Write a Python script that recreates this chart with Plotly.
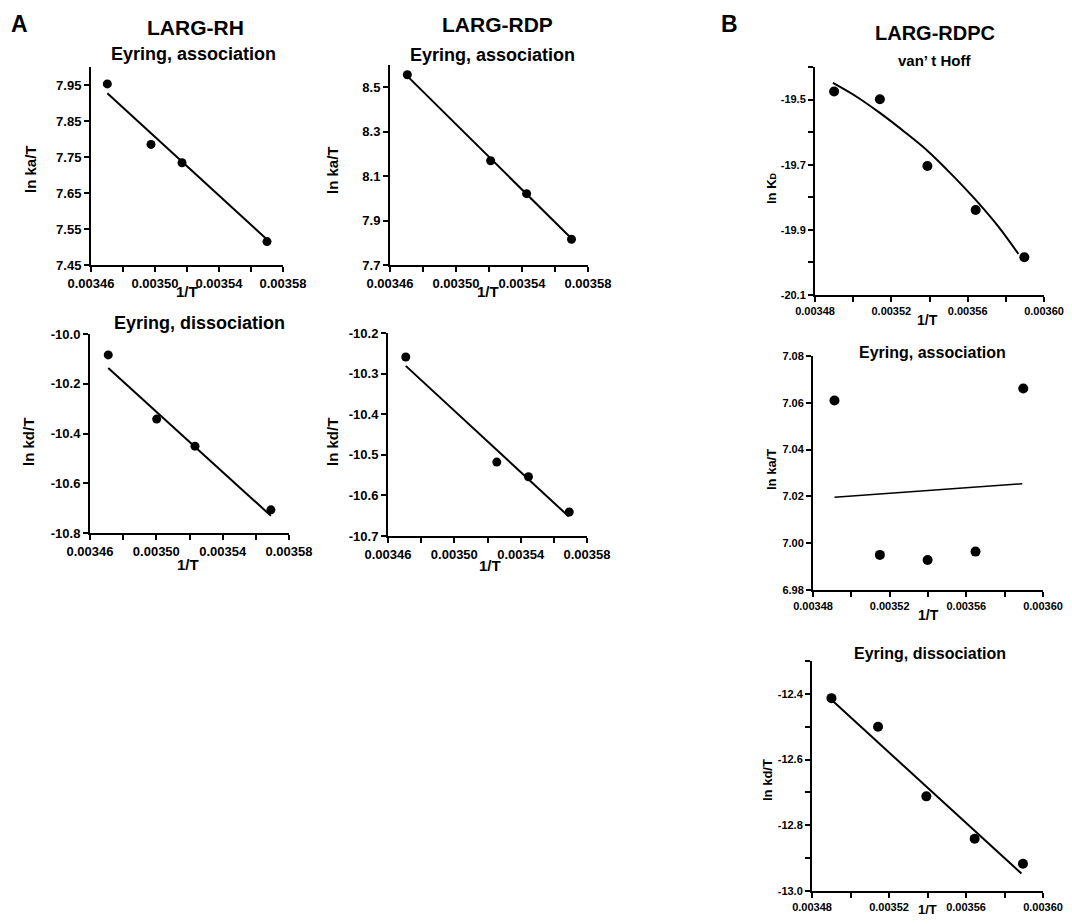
import plotly.graph_objects as go

# The page body has an 8px margin; the figure is sized so that it fits the
# 1072x924 window, and page-pixel positions are shifted by OFF.
PAGE_W, PAGE_H = 1072, 924
OFF = 8
W, H = PAGE_W - OFF, PAGE_H - 2 * OFF

# ---------------- data ----------------
# A: LARG-RH
rh_ass_x = [0.0034702, 0.0034975, 0.0035169, 0.0035700]
rh_ass_y = [7.953, 7.785, 7.734, 7.515]
rh_ass_fit_x = [0.0034702, 0.0035700]
rh_ass_fit_y = [7.927, 7.521]

rh_dis_x = [0.0034710, 0.0035002, 0.0035233, 0.0035691]
rh_dis_y = [-10.084, -10.342, -10.451, -10.707]
rh_dis_fit_x = [0.0034710, 0.0035691]
rh_dis_fit_y = [-10.137, -10.731]

# A: LARG-RDP
rdp_ass_x = [0.0034705, 0.0035210, 0.0035428, 0.0035700]
rdp_ass_y = [8.556, 8.169, 8.021, 7.816]
rdp_ass_fit_x = [0.0034705, 0.0035700]
rdp_ass_fit_y = [8.550, 7.819]

rdp_dis_x = [0.0034707, 0.0035256, 0.0035447, 0.0035693]
rdp_dis_y = [-10.259, -10.518, -10.554, -10.641]
rdp_dis_fit_x = [0.0034707, 0.0035690]
rdp_dis_fit_y = [-10.281, -10.652]

# B: LARG-RDPC
rdpc_vh_x = [0.0034900, 0.0035140, 0.0035389, 0.0035642, 0.0035897]
rdpc_vh_y = [-19.475, -19.499, -19.704, -19.839, -19.984]
rdpc_vh_fit_x = [0.0034894, 0.0035020, 0.0035140, 0.0035273, 0.0035389, 0.0035513,
                 0.0035642, 0.0035754, 0.0035866]
rdpc_vh_fit_y = [-19.449, -19.492, -19.541, -19.601, -19.657, -19.728,
                 -19.808, -19.885, -19.974]

rdpc_ass_x = [0.0034912, 0.0035149, 0.0035398, 0.0035648, 0.0035897]
rdpc_ass_y = [7.061, 6.995, 6.9928, 6.9964, 7.0661]
rdpc_ass_fit_x = [0.0034912, 0.0035892]
rdpc_ass_fit_y = [7.0196, 7.0254]

rdpc_dis_x = [0.0034901, 0.0035143, 0.0035394, 0.0035645, 0.0035896]
rdpc_dis_y = [-12.413, -12.500, -12.712, -12.841, -12.917]
rdpc_dis_fit_x = [0.0034901, 0.0035888]
rdpc_dis_fit_y = [-12.418, -12.947]

# tick values / labels
xA_ticks = [0.00346, 0.00348, 0.00350, 0.00352, 0.00354, 0.00356, 0.00358]
xA_text = ["0.00346", "", "0.00350", "", "0.00354", "", "0.00358"]
xB_ticks = [0.00348, 0.00350, 0.00352, 0.00354, 0.00356, 0.00358, 0.00360]
xB_text = ["0.00348", "", "0.00352", "", "0.00356", "", "0.00360"]

yA1_ticks = [7.45, 7.55, 7.65, 7.75, 7.85, 7.95]
yA1_text = ["7.45", "7.55", "7.65", "7.75", "7.85", "7.95"]
yA2_ticks = [7.7, 7.9, 8.1, 8.3, 8.5]
yA2_text = ["7.7", "7.9", "8.1", "8.3", "8.5"]
yA3_ticks = [-10.8, -10.6, -10.4, -10.2, -10.0]
yA3_text = ["-10.8", "-10.6", "-10.4", "-10.2", "-10.0"]
yA4_ticks = [-10.7, -10.6, -10.5, -10.4, -10.3, -10.2]
yA4_text = ["-10.7", "-10.6", "-10.5", "-10.4", "-10.3", "-10.2"]
yB1_ticks = [-20.1, -20.0, -19.9, -19.8, -19.7, -19.6, -19.5, -19.4]
yB1_text = ["-20.1", "", "-19.9", "", "-19.7", "", "-19.5", ""]
yB2_ticks = [6.98, 7.00, 7.02, 7.04, 7.06, 7.08]
yB2_text = ["6.98", "7.00", "7.02", "7.04", "7.06", "7.08"]
yB3_ticks = [-13.0, -12.9, -12.8, -12.7, -12.6, -12.5, -12.4, -12.3]
yB3_text = ["-13.0", "", "-12.8", "", "-12.6", "", "-12.4", ""]

# ---------------- layout helpers ----------------
FONT = "Liberation Sans"


def px_x(p):
    return (p - OFF) / W


def px_y(p):
    return 1 - (p - OFF) / H


panels = [
    # (pts_x, pts_y, fit_x, fit_y, xrange, yrange, xt, xtt, yt, ytt, (x0,x1,y0,y1) page px, tickfont, msize, lw, shape)
    (rh_ass_x, rh_ass_y, rh_ass_fit_x, rh_ass_fit_y, [0.00346, 0.00358], [7.45, 8.0],
     xA_ticks, xA_text, yA1_ticks, yA1_text, (91, 283, 67, 265), 13, 9, 2, "linear"),
    (rdp_ass_x, rdp_ass_y, rdp_ass_fit_x, rdp_ass_fit_y, [0.00346, 0.00358], [7.7, 8.6],
     xA_ticks, xA_text, yA2_ticks, yA2_text, (390, 588, 65, 265), 13, 9, 2, "linear"),
    (rh_dis_x, rh_dis_y, rh_dis_fit_x, rh_dis_fit_y, [0.00346, 0.00358], [-10.8, -10.0],
     xA_ticks, xA_text, yA3_ticks, yA3_text, (90, 289, 334, 533), 13, 9, 2, "linear"),
    (rdp_dis_x, rdp_dis_y, rdp_dis_fit_x, rdp_dis_fit_y, [0.00346, 0.00358], [-10.7, -10.2],
     xA_ticks, xA_text, yA4_ticks, yA4_text, (388, 587, 333, 536), 13, 9, 2, "linear"),
    (rdpc_vh_x, rdpc_vh_y, rdpc_vh_fit_x, rdpc_vh_fit_y, [0.00348, 0.00360], [-20.1, -19.4],
     xB_ticks, xB_text, yB1_ticks, yB1_text, (815, 1044, 67, 295), 11, 10, 2, "spline"),
    (rdpc_ass_x, rdpc_ass_y, rdpc_ass_fit_x, rdpc_ass_fit_y, [0.00348, 0.00360], [6.98, 7.08],
     xB_ticks, xB_text, yB2_ticks, yB2_text, (813, 1043, 356, 590), 11, 10, 1.5, "linear"),
    (rdpc_dis_x, rdpc_dis_y, rdpc_dis_fit_x, rdpc_dis_fit_y, [0.00348, 0.00360], [-13.0, -12.3],
     xB_ticks, xB_text, yB3_ticks, yB3_text, (812, 1043, 661, 891), 11, 10, 2, "linear"),
]

fig = go.Figure()
layout = dict(
    width=W, height=H,
    margin=dict(l=0, r=0, t=0, b=0, autoexpand=False),
    paper_bgcolor="white", plot_bgcolor="white",
    showlegend=False,
    font=dict(family=FONT, color="black"),
)

for i, (px_, py_, fx, fy, xr, yr, xt, xtt, yt, ytt, box, tfs, ms, lw, shape) in enumerate(panels):
    n = "" if i == 0 else str(i + 1)
    xa, ya = "x" + n, "y" + n
    fig.add_trace(go.Scatter(x=fx, y=fy, mode="lines", xaxis=xa, yaxis=ya,
                             line=dict(color="black", width=lw, shape=shape),
                             hoverinfo="skip"))
    fig.add_trace(go.Scatter(x=px_, y=py_, mode="markers", xaxis=xa, yaxis=ya,
                             marker=dict(color="black", size=ms)))
    x0, x1, y0, y1 = box
    xspan = xr[1] - xr[0]
    yspan = yr[1] - yr[0]
    common = dict(showline=True, linecolor="black", linewidth=2, ticks="outside",
                  ticklen=5, tickwidth=2, tickcolor="black", showgrid=False,
                  zeroline=False, mirror=False, fixedrange=True, automargin=False,
                  ticklabeloverflow="allow",
                  tickfont=dict(family=FONT, size=tfs, color="black", weight="bold"))
    layout["xaxis" + n] = dict(common, domain=[px_x(x0), px_x(x1)], anchor=ya,
                               range=[xr[0] - xspan * 1e-5, xr[1] + xspan * 1e-5],
                               tickmode="array", tickvals=xt, ticktext=xtt)
    layout["yaxis" + n] = dict(common, domain=[px_y(y1), px_y(y0)], anchor=xa,
                               range=[yr[0] - yspan * 1e-5, yr[1] + yspan * 1e-5],
                               tickmode="array", tickvals=yt, ticktext=ytt)


def ann(text, x, y, size, angle=0):
    return dict(text=text, x=px_x(x), y=px_y(y), xref="paper", yref="paper",
                xanchor="center", yanchor="middle", showarrow=False, textangle=angle,
                font=dict(family=FONT, size=size, color="black", weight="bold"))


annotations = [
    ann("A", 19, 24, 23),
    ann("B", 729, 24, 23),
    ann("LARG-RH", 195, 28, 21),
    ann("LARG-RDP", 497, 25, 21),
    ann("LARG-RDPC", 935, 33, 20),
    ann("Eyring, association", 193, 54, 18),
    ann("Eyring, association", 492, 55, 18),
    ann("Eyring, dissociation", 199, 323, 18),
    ann("van’ t Hoff", 935, 61, 15),
    ann("Eyring, association", 932, 352, 16),
    ann("Eyring, dissociation", 930, 653, 16),
    # axis titles
    ann("ln ka/T", 30, 169, 15, -90),
    ann("ln ka/T", 333, 170, 15, -90),
    ann("ln kd/T", 28, 442, 15, -90),
    ann("ln kd/T", 332, 442, 15, -90),
    ann("ln K<span style='font-size:9px'>D</span>", 771, 188, 13, -90),
    ann("ln ka/T", 772, 470, 13, -90),
    ann("ln kd/T", 767, 780, 13, -90),
    ann("1/T", 187, 291, 15),
    ann("1/T", 488, 291, 15),
    ann("1/T", 188, 564, 15),
    ann("1/T", 490, 565, 15),
    ann("1/T", 927, 320, 14),
    ann("1/T", 928, 615, 14),
    ann("1/T", 927, 909, 13),
]
layout["annotations"] = annotations
fig.update_layout(**layout)

fig.write_html("out.html")
